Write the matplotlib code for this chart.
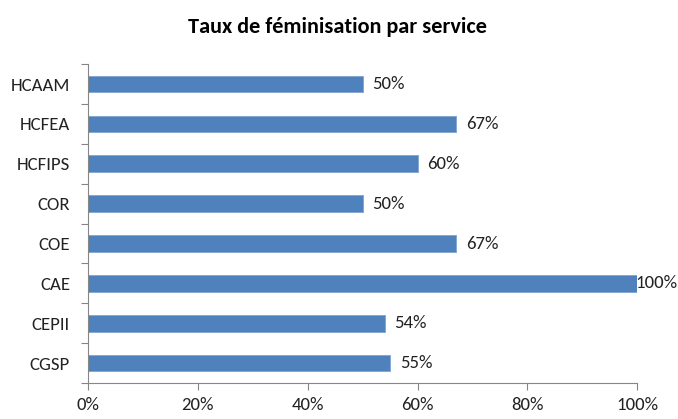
import matplotlib
matplotlib.use('Agg')
import matplotlib.pyplot as plt
from matplotlib.ticker import FixedLocator, PercentFormatter

# données (de haut en bas)
services = ['HCAAM', 'HCFEA', 'HCFIPS', 'COR', 'COE', 'CAE', 'CEPII', 'CGSP']
taux = [50, 67, 60, 50, 67, 100, 54, 55]
xticks = [0, 20, 40, 60, 80, 100]

BLUE = '#4F81BD'
GREY = '#868686'
FS = 13.5

plt.rcParams['font.family'] = ['Carlito', 'Lato', 'DejaVu Sans']

fig = plt.figure(figsize=(6.78, 4.19), dpi=100)
ax = fig.add_axes([0.1298, 0.0859, 0.81, 0.761])

n = len(services)
ypos = list(range(n))[::-1]
ax.barh(ypos, taux, height=0.42, color=BLUE, edgecolor='#7FA3D0', linewidth=0.6)

for y, v in zip(ypos, taux):
    if v >= 100:
        ax.annotate(f'{v}%', (v, y), xytext=(-1, 0), textcoords='offset points',
                    ha='left', va='center', fontsize=FS, color='#222222',
                    annotation_clip=False)
    else:
        ax.annotate(f'{v}%', (v, y), xytext=(7, 0), textcoords='offset points',
                    ha='left', va='center', fontsize=FS, color='#222222')

ax.set_xlim(0, 100)
ax.set_ylim(-0.5, n - 0.5)
ax.set_xticks(xticks)
ax.xaxis.set_major_formatter(PercentFormatter(decimals=0))
ax.set_yticks(ypos)
ax.set_yticklabels(services)
ax.yaxis.set_minor_locator(FixedLocator([i - 0.5 for i in range(n + 1)]))
ax.tick_params(axis='y', which='major', length=0, pad=13, labelsize=FS, colors='#222222')
ax.tick_params(axis='y', which='minor', length=5, color=GREY, width=0.8)
ax.tick_params(axis='x', length=5, color=GREY, width=0.8, labelsize=FS,
               labelcolor='#222222', pad=5)

for s in ['top', 'right']:
    ax.spines[s].set_visible(False)
for s in ['left', 'bottom']:
    ax.spines[s].set_color(GREY)
    ax.spines[s].set_linewidth(0.8)

fig.suptitle('Taux de féminisation par service', fontsize=16, fontweight='bold',
             x=0.497, y=0.96)

fig.savefig('out.png', dpi=100)
